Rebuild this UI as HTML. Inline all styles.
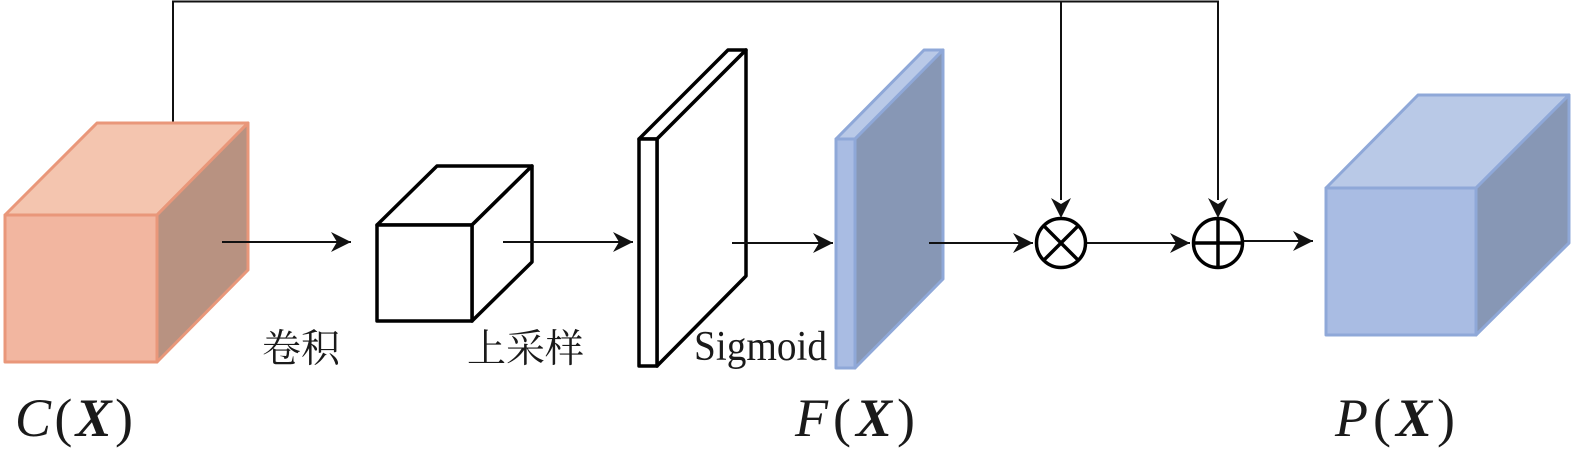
<!DOCTYPE html>
<html>
<head>
<meta charset="utf-8">
<style>
html,body{margin:0;padding:0;background:#fff;}
svg{display:block;}
</style>
</head>
<body>
<svg width="1575" height="456" viewBox="0 0 1575 456" xmlns="http://www.w3.org/2000/svg">
<defs>
<marker id="ah" markerWidth="22" markerHeight="22" viewBox="-22 -11 22 22" refX="0" refY="0" markerUnits="userSpaceOnUse" orient="auto">
<path d="M0,0 L-20,-10 L-14,0 L-20,10 Z" fill="#111"/>
</marker>
</defs>

<!-- top feedback lines -->
<polyline points="173,123 173,1.5 1218,1.5 1218,200" fill="none" stroke="#111" stroke-width="2"/>
<line x1="1061" y1="1.5" x2="1061" y2="200" stroke="#111" stroke-width="2"/>
<path d="M1061,218 L1051,198 L1061,204 L1071,198 Z" fill="#111"/>
<path d="M1218,218 L1208,198 L1218,204 L1228,198 Z" fill="#111"/>

<!-- orange cube C(X) -->
<g stroke="#E9977A" stroke-width="3" stroke-linejoin="round">
<polygon points="5,215 97,123 248,123 157,215" fill="#F4C5AF"/>
<polygon points="157,215 248,123 248,270 157,362" fill="#B89281"/>
<polygon points="5,215 157,215 157,362 5,362" fill="#F2B6A0"/>
</g>

<!-- small white cube -->
<g stroke="#000" stroke-width="3.5" stroke-linejoin="round" fill="#fff">
<polygon points="377,225 437,166 532,166 472,225"/>
<polygon points="472,225 532,166 532,262 472,321"/>
<polygon points="377,225 472,225 472,321 377,321"/>
</g>

<!-- white panel -->
<g stroke="#000" stroke-width="3.5" stroke-linejoin="round" fill="#fff">
<polygon points="639,139 728,50 746,50 657,139"/>
<polygon points="657,139 746,50 746,276 657,366"/>
<polygon points="639,139 657,139 657,366 639,366"/>
</g>

<!-- blue panel F(X) -->
<g stroke="#8FA8D8" stroke-width="3" stroke-linejoin="round">
<polygon points="836,139 924,50 943,50 855,139" fill="#B9C9E7"/>
<polygon points="855,139 943,50 943,279 855,368" fill="#8797B5"/>
<polygon points="836,139 855,139 855,368 836,368" fill="#A9BCE3"/>
</g>

<!-- blue cube P(X) -->
<g stroke="#8FA8D8" stroke-width="3" stroke-linejoin="round">
<polygon points="1326,188 1418,95 1569,95 1476,188" fill="#B9C9E7"/>
<polygon points="1476,188 1569,95 1569,243 1476,335" fill="#8797B5"/>
<polygon points="1326,188 1476,188 1476,335 1326,335" fill="#A9BCE3"/>
</g>

<!-- horizontal arrows -->
<g stroke="#111" stroke-width="2" fill="none">
<line x1="222" y1="242" x2="351" y2="242" marker-end="url(#ah)"/>
<line x1="503" y1="242" x2="633" y2="242" marker-end="url(#ah)"/>
<line x1="732" y1="243" x2="833" y2="243" marker-end="url(#ah)"/>
<line x1="929" y1="243" x2="1033" y2="243" marker-end="url(#ah)"/>
<line x1="1086" y1="243" x2="1190" y2="243" marker-end="url(#ah)"/>
<line x1="1243" y1="241" x2="1313" y2="241" marker-end="url(#ah)"/>
</g>

<!-- operators -->
<g stroke="#000" stroke-width="3.5" fill="#fff">
<circle cx="1061" cy="243" r="24.5"/>
<circle cx="1218" cy="243" r="24.5"/>
</g>
<g stroke="#000" stroke-width="3.5">
<line x1="1043.7" y1="225.7" x2="1078.3" y2="260.3"/>
<line x1="1078.3" y1="225.7" x2="1043.7" y2="260.3"/>
<line x1="1193.5" y1="243" x2="1242.5" y2="243"/>
<line x1="1218" y1="218.5" x2="1218" y2="267.5"/>
</g>

<!-- labels -->
<g fill="#1a1a1a">
<text x="262" y="362" font-family="'Liberation Serif','Noto Serif CJK SC',serif" font-size="39">卷积</text>
<text x="467" y="362" font-family="'Liberation Serif','Noto Serif CJK SC',serif" font-size="39">上采样</text>
<text x="694" y="360" font-family="'Liberation Serif',serif" font-size="42" textLength="133" lengthAdjust="spacingAndGlyphs">Sigmoid</text>

<text x="15" y="436" font-family="'Liberation Serif',serif" font-size="54" textLength="118" lengthAdjust="spacing"><tspan font-style="italic">C</tspan><tspan>(</tspan><tspan font-style="italic" font-weight="bold">X</tspan><tspan>)</tspan></text>
<text x="795" y="436" font-family="'Liberation Serif',serif" font-size="54" textLength="120" lengthAdjust="spacing"><tspan font-style="italic">F</tspan><tspan>(</tspan><tspan font-style="italic" font-weight="bold">X</tspan><tspan>)</tspan></text>
<text x="1335" y="436" font-family="'Liberation Serif',serif" font-size="54" textLength="120" lengthAdjust="spacing"><tspan font-style="italic">P</tspan><tspan>(</tspan><tspan font-style="italic" font-weight="bold">X</tspan><tspan>)</tspan></text>
</g>
</svg>
</body>
</html>
